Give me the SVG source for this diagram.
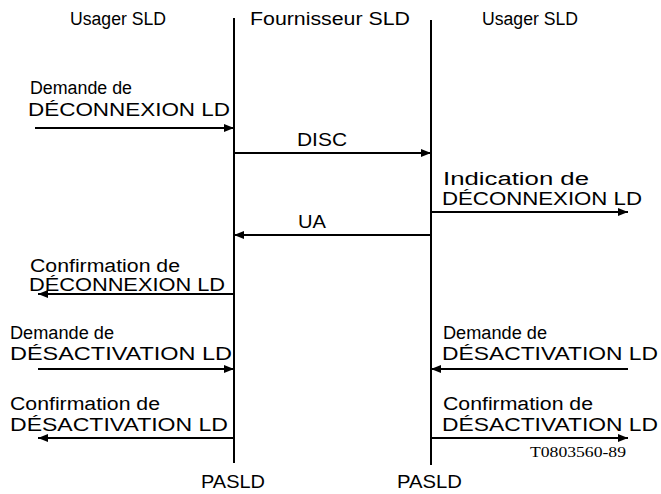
<svg xmlns="http://www.w3.org/2000/svg" width="661" height="494" viewBox="0 0 661 494">
<style>
text{font-family:"Liberation Sans",Arial,sans-serif;font-size:18px;fill:#000}
.ref{font-family:"Liberation Serif","Times New Roman",serif;font-size:15px}
.life{stroke:#000;stroke-width:2;fill:none}
.msg{stroke:#000;stroke-width:1.8;fill:none;marker-end:url(#ah)}
</style>
<defs>
<marker id="ah" viewBox="0 0 10 8" refX="10" refY="4" markerWidth="10" markerHeight="8" markerUnits="userSpaceOnUse" orient="auto">
<path d="M0,0 L10,4 L0,8 Z" fill="#000"/>
</marker>
</defs>
<rect width="661" height="494" fill="#fff"/>
<g id="usager-gauche">
<text x="70" y="25" textLength="96" lengthAdjust="spacingAndGlyphs">Usager SLD</text>
<line class="life" x1="234" y1="18" x2="234" y2="463"/>
<text x="201" y="488" textLength="64" lengthAdjust="spacingAndGlyphs">PASLD</text>
</g>
<g id="fournisseur">
<text x="250" y="25" textLength="160" lengthAdjust="spacingAndGlyphs">Fournisseur SLD</text>
</g>
<g id="usager-droit">
<text x="482" y="25" textLength="96" lengthAdjust="spacingAndGlyphs">Usager SLD</text>
<line class="life" x1="431" y1="20" x2="431" y2="465"/>
<text x="397" y="488" textLength="65" lengthAdjust="spacingAndGlyphs">PASLD</text>
</g>
<g id="connecteurs">
<line class="msg" x1="35" y1="128" x2="234" y2="128"/>
<line class="msg" x1="234" y1="153" x2="431" y2="153"/>
<line class="msg" x1="431" y1="212" x2="628" y2="212"/>
<line class="msg" x1="431" y1="235" x2="234" y2="235"/>
<line class="msg" x1="234" y1="294" x2="38" y2="294"/>
<line class="msg" x1="38" y1="369" x2="234" y2="369"/>
<line class="msg" x1="628" y1="369" x2="431" y2="369"/>
<line class="msg" x1="234" y1="438" x2="38" y2="438"/>
<line class="msg" x1="431" y1="438" x2="628" y2="438"/>
</g>
<g id="libelles">
<text x="30" y="94" textLength="102" lengthAdjust="spacingAndGlyphs">Demande de</text>
<text x="28" y="116" textLength="202" lengthAdjust="spacingAndGlyphs">DÉCONNEXION LD</text>
<text x="297" y="146" textLength="50" lengthAdjust="spacingAndGlyphs">DISC</text>
<text x="443" y="185" textLength="146" lengthAdjust="spacingAndGlyphs">Indication de</text>
<text x="442" y="205" textLength="200" lengthAdjust="spacingAndGlyphs">DÉCONNEXION LD</text>
<text x="298" y="228" textLength="28" lengthAdjust="spacingAndGlyphs">UA</text>
<text x="30" y="272" textLength="150" lengthAdjust="spacingAndGlyphs">Confirmation de</text>
<text x="29" y="291" textLength="196" lengthAdjust="spacingAndGlyphs">DÉCONNEXION LD</text>
<text x="10" y="339" textLength="104" lengthAdjust="spacingAndGlyphs">Demande de</text>
<text x="10" y="360" textLength="222" lengthAdjust="spacingAndGlyphs">DÉSACTIVATION LD</text>
<text x="443" y="339" textLength="104" lengthAdjust="spacingAndGlyphs">Demande de</text>
<text x="442" y="360" textLength="216" lengthAdjust="spacingAndGlyphs">DÉSACTIVATION LD</text>
<text x="10" y="410" textLength="150" lengthAdjust="spacingAndGlyphs">Confirmation de</text>
<text x="10" y="431" textLength="218" lengthAdjust="spacingAndGlyphs">DÉSACTIVATION LD</text>
<text x="443" y="410" textLength="150" lengthAdjust="spacingAndGlyphs">Confirmation de</text>
<text x="442" y="431" textLength="216" lengthAdjust="spacingAndGlyphs">DÉSACTIVATION LD</text>
<text class="ref" x="530" y="457" textLength="96" lengthAdjust="spacingAndGlyphs">T0803560-89</text>
</g>
</svg>
